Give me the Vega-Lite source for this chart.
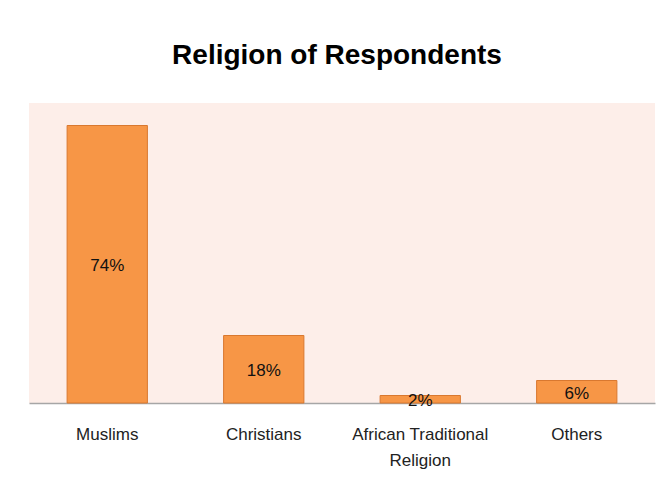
{
  "$schema": "https://vega.github.io/schema/vega-lite/v6.json",
  "width": 626,
  "height": 300,
  "autosize": {"type": "none"},
  "padding": {"left": 29, "top": 103, "right": 15, "bottom": 74},
  "background": "white",
  "title": {
    "text": "Religion of Respondents",
    "font": "Liberation Sans",
    "fontSize": 28,
    "fontWeight": "bold",
    "color": "#000000",
    "anchor": "middle",
    "baseline": "alphabetic",
    "offset": 11,
    "dx": -5
  },
  "config": {
    "view": {"stroke": null, "fill": "#FDEEE9"}
  },
  "data": {
    "values": [
      {"religion": "Muslims", "share": 0.74},
      {"religion": "Christians", "share": 0.18},
      {"religion": "African Traditional Religion", "share": 0.02},
      {"religion": "Others", "share": 0.06}
    ]
  },
  "encoding": {
    "x": {
      "field": "religion",
      "type": "nominal",
      "sort": null,
      "scale": {"paddingInner": 0.487, "paddingOuter": 0.2435},
      "axis": {
        "title": null,
        "ticks": false,
        "domainColor": "#A6A6A6",
        "domainWidth": 1.3,
        "labelAngle": 0,
        "labelFont": "Liberation Sans",
        "labelFontSize": 17,
        "labelColor": "#222222",
        "labelPadding": 23,
        "labelLineHeight": 26,
        "labelExpr": "datum.label == 'African Traditional Religion' ? ['African Traditional', 'Religion'] : datum.label"
      }
    }
  },
  "layer": [
    {
      "mark": {"type": "bar", "fill": "#F79646", "stroke": "#D9782F", "strokeWidth": 1},
      "encoding": {
        "y": {
          "field": "share",
          "type": "quantitative",
          "scale": {"domain": [0, 0.8], "nice": false},
          "axis": null
        }
      }
    },
    {
      "transform": [{"calculate": "datum.share / 2", "as": "mid"}],
      "mark": {
        "type": "text",
        "font": "Liberation Sans",
        "fontSize": 17,
        "color": "#111111",
        "baseline": "middle",
        "dy": 2
      },
      "encoding": {
        "y": {"field": "mid", "type": "quantitative", "scale": {"domain": [0, 0.8], "nice": false}},
        "text": {"field": "share", "type": "quantitative", "format": ".0%"}
      }
    }
  ]
}
